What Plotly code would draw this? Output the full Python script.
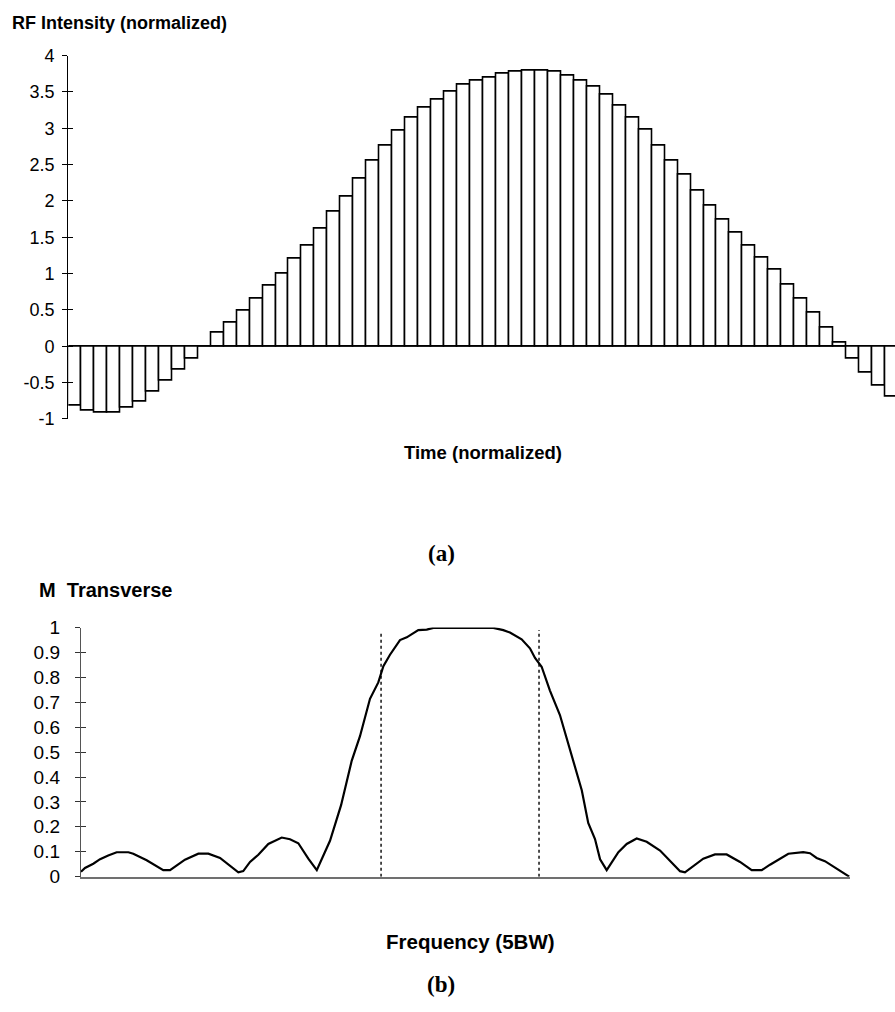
import plotly.graph_objects as go

W, H = 895, 1012

# (a) RF pulse: one sample per time step
rf_step = list(range(64))
rf_intensity = [
    -0.82, -0.89, -0.91, -0.91, -0.85, -0.765, -0.63, -0.47, -0.32, -0.17,
    0.0, 0.18, 0.33, 0.485, 0.655, 0.83, 1.005, 1.20, 1.39, 1.62,
    1.855, 2.065, 2.305, 2.55, 2.765, 2.965, 3.14, 3.29, 3.40, 3.505,
    3.595, 3.66, 3.70, 3.75, 3.775, 3.80, 3.80, 3.775, 3.73, 3.66,
    3.58, 3.47, 3.31, 3.145, 2.975, 2.765, 2.55, 2.355, 2.135, 1.935,
    1.74, 1.57, 1.39, 1.225, 1.05, 0.845, 0.65, 0.46, 0.26, 0.045,
    -0.17, -0.37, -0.54, -0.70,
]
rf_ticks = [-1, -0.5, 0, 0.5, 1, 1.5, 2, 2.5, 3, 3.5, 4]
rf_ticktext = ["-1", "-0.5", "0", "0.5", "1", "1.5", "2", "2.5", "3", "3.5", "4"]

# (b) transverse magnetisation across the frequency span (units of BW)
freq = [
    -2.500, -2.474, -2.420, -2.376, -2.323, -2.268, -2.192, -2.160, -2.073, -2.019,
    -1.965, -1.921, -1.878, -1.824, -1.737, -1.672, -1.596, -1.542, -1.477, -1.445,
    -1.401, -1.347, -1.282, -1.195, -1.141, -1.087, -1.022, -0.967, -0.881, -0.809,
    -0.740, -0.686, -0.621, -0.567, -0.534, -0.491, -0.426, -0.382, -0.307, -0.252,
    -0.209, 0.181, 0.246, 0.289, 0.365, 0.419, 0.452, 0.495, 0.549, 0.614,
    0.658, 0.712, 0.756, 0.798, 0.842, 0.875, 0.918, 0.994, 1.048, 1.113,
    1.178, 1.265, 1.395, 1.427, 1.546, 1.622, 1.698, 1.785, 1.861, 1.926,
    1.980, 2.099, 2.196, 2.240, 2.283, 2.337, 2.495,
]
m_transverse = [
    0.020, 0.035, 0.052, 0.070, 0.085, 0.098, 0.098, 0.092, 0.066, 0.046,
    0.026, 0.026, 0.046, 0.068, 0.092, 0.092, 0.075, 0.050, 0.017, 0.022,
    0.059, 0.088, 0.131, 0.157, 0.150, 0.134, 0.072, 0.026, 0.144, 0.287,
    0.465, 0.564, 0.714, 0.780, 0.845, 0.891, 0.950, 0.961, 0.990, 0.992,
    0.999, 0.999, 0.990, 0.980, 0.953, 0.917, 0.878, 0.843, 0.747, 0.649,
    0.557, 0.439, 0.347, 0.216, 0.151, 0.070, 0.026, 0.098, 0.131, 0.153,
    0.140, 0.105, 0.022, 0.017, 0.072, 0.089, 0.089, 0.059, 0.026, 0.026,
    0.048, 0.092, 0.098, 0.094, 0.075, 0.062, 0.000,
]
# passband edges (dotted markers)
edge_freq = [-0.549, 0.478]
edge_height = [0.985, 0.99]
m_ticks = [0, 0.1, 0.2, 0.3, 0.4, 0.5, 0.6, 0.7, 0.8, 0.9, 1]
m_ticktext = ["0", "0.1", "0.2", "0.3", "0.4", "0.5", "0.6", "0.7", "0.8", "0.9", "1"]


def px_x(p):
    return p / W


def px_y(p):
    return 1 - p / H


SANS = "Liberation Sans"
SERIF = "Liberation Serif"

fig = go.Figure()

fig.add_trace(go.Bar(
    x=rf_step, y=rf_intensity, width=1,
    marker=dict(color="white", line=dict(color="black", width=1.6)),
    xaxis="x", yaxis="y", showlegend=False, hoverinfo="x+y",
))
# invisible helper traces so the cross-tick overlay axes get drawn
fig.add_trace(go.Scatter(x=[None], y=[None], xaxis="x", yaxis="y3",
                         showlegend=False, hoverinfo="skip"))

fig.add_trace(go.Scatter(
    x=freq, y=m_transverse, mode="lines",
    line=dict(color="black", width=2.2),
    xaxis="x2", yaxis="y2", cliponaxis=False, showlegend=False,
))
for f, h in zip(edge_freq, edge_height):
    fig.add_trace(go.Scatter(
        x=[f, f], y=[0, h], mode="lines",
        line=dict(color="black", width=1.4, dash="dot"),
        xaxis="x2", yaxis="y2", showlegend=False, hoverinfo="skip",
    ))
fig.add_trace(go.Scatter(x=[None], y=[None], xaxis="x2", yaxis="y4",
                         showlegend=False, hoverinfo="skip"))

fig.update_layout(
    width=W, height=H,
    margin=dict(l=0, r=0, t=0, b=0),
    paper_bgcolor="white", plot_bgcolor="white",
    bargap=0,
    showlegend=False,
    xaxis=dict(
        domain=[px_x(68.3), 1.0], range=[-0.5, 63.24], anchor="y",
        showline=False, showgrid=False, zeroline=False,
        showticklabels=False, ticks="",
    ),
    yaxis=dict(
        domain=[px_y(417.5), px_y(46.6)], range=[-1, 4], anchor="x",
        tickvals=rf_ticks, ticktext=rf_ticktext,
        tickfont=dict(family=SANS, size=18, color="black"),
        ticks="outside", ticklen=5, tickwidth=1.2, tickcolor="black",
        ticklabelstandoff=4,
        showline=True, linecolor="black", linewidth=1.4,
        showgrid=False,
        zeroline=True, zerolinecolor="#6a6a6a", zerolinewidth=1.3,
    ),
    yaxis3=dict(
        overlaying="y", anchor="x", side="left", range=[-1, 4],
        tickvals=rf_ticks, ticks="inside", ticklen=5, tickwidth=1.2,
        tickcolor="black", showticklabels=False,
        showline=False, showgrid=False, zeroline=False,
    ),
    xaxis2=dict(
        domain=[px_x(81), px_x(850)], range=[-2.5, 2.5], anchor="y2",
        showline=True, linecolor="#707070", linewidth=1.6,
        showgrid=False, zeroline=False, showticklabels=False, ticks="",
    ),
    yaxis2=dict(
        domain=[px_y(885), px_y(630.7)], range=[0, 1], anchor="x2",
        tickvals=m_ticks, ticktext=m_ticktext,
        tickfont=dict(family=SANS, size=19, color="black"),
        ticks="outside", ticklen=5, tickwidth=1.2, tickcolor="#333",
        ticklabelstandoff=11,
        showline=True, linecolor="#555", linewidth=1.4,
        showgrid=False, zeroline=False,
    ),
    yaxis4=dict(
        overlaying="y2", anchor="x2", side="left", range=[0, 1],
        tickvals=m_ticks, ticks="inside", ticklen=5, tickwidth=1.2,
        tickcolor="#333", showticklabels=False,
        showline=False, showgrid=False, zeroline=False,
    ),
)

labels = [
    ("<b>RF Intensity (normalized)</b>", 10, 13.3, "left", SANS, 18),
    ("<b>Time (normalized)</b>", 483.5, 451.7, "center", SANS, 18.5),
    ("<b>(a)</b>", 441.7, 555, "center", SERIF, 23),
    ("<b>M  Transverse</b>", 36.7, 592.7, "left", SANS, 20),
    ("<b>Frequency (5BW)</b>", 470, 951.7, "center", SANS, 20.5),
    ("<b>(b)</b>", 440.5, 995, "center", SERIF, 23),
]
for text, x, y, anchor, family, size in labels:
    fig.add_annotation(
        text=text, xref="paper", yref="paper", x=px_x(x), y=px_y(y),
        xanchor=anchor, yanchor="middle", showarrow=False,
        font=dict(family=family, size=size, color="black"),
    )

fig.write_html("out.html")
